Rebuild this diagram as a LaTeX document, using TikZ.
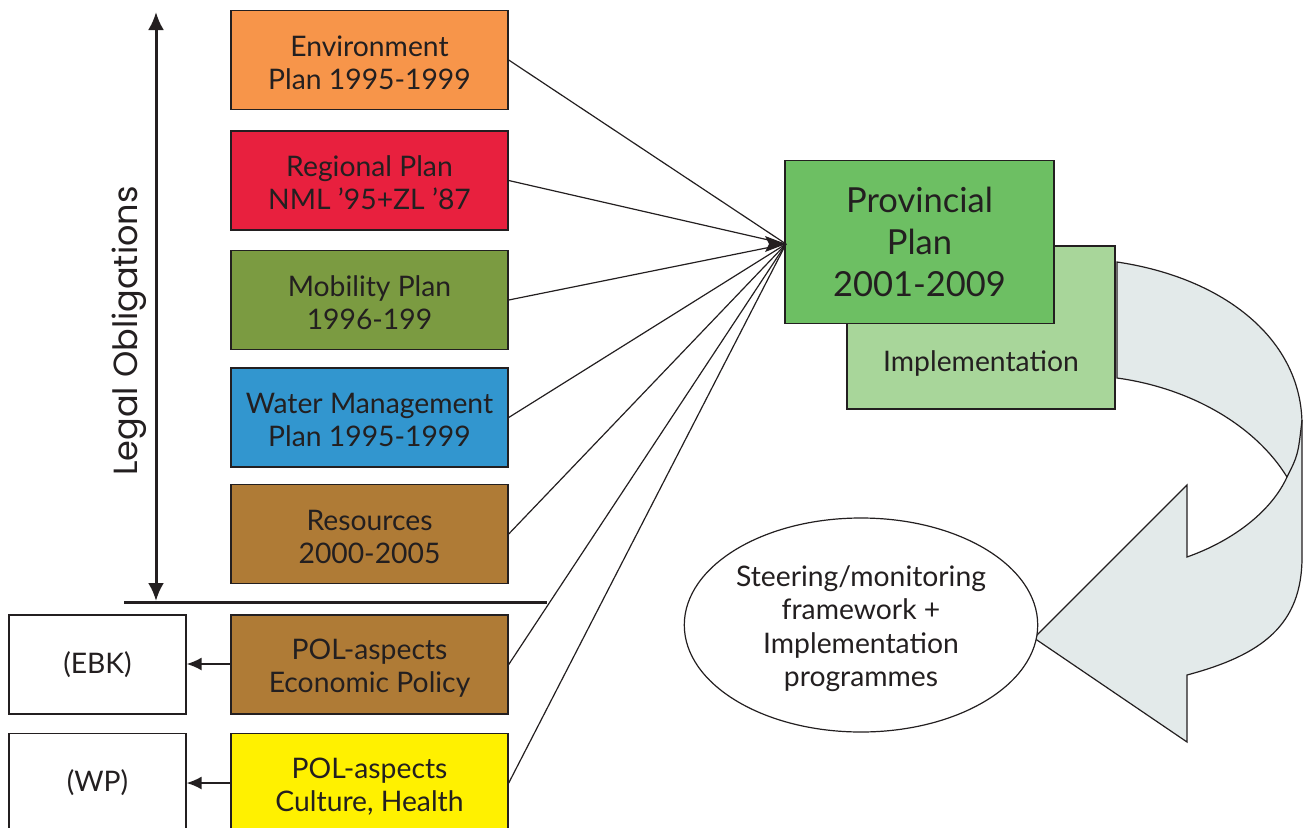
\documentclass[tikz,border=0pt]{standalone}
\usepackage{fontspec}
\setmainfont{Lato}
\newfontfamily\widefont{Poppins}
\usetikzlibrary{arrows.meta,shapes.geometric}
\definecolor{ink}{HTML}{231F20}
\definecolor{corange}{HTML}{F7954A}
\definecolor{cred}{HTML}{E8203E}
\definecolor{colive}{HTML}{7B9B41}
\definecolor{cblue}{HTML}{3296CF}
\definecolor{cbrown}{HTML}{AF7B36}
\definecolor{cyellow}{HTML}{FFF100}
\definecolor{cgreen}{HTML}{6DBF63}
\definecolor{clight}{HTML}{A8D69A}
\definecolor{carrow}{HTML}{E3EAEA}
\newcommand\tp{\rule{0pt}{28pt}}
\newcommand\tb{\rule[-3pt]{0pt}{3pt}}
\tikzset{
  plan/.style={draw=ink, line width=1.4pt, minimum width=277pt, minimum height=99pt,
    align=center, text=ink, font=\fontsize{28.3}{33}\selectfont, inner sep=0pt},
  whitebox/.style={plan, fill=white, minimum width=177pt},
  feed/.style={draw=ink, line width=1.2pt},
  sidearrow/.style={draw=ink, line width=1.5pt, -{Latex[length=15pt,width=13pt]}},
}
\begin{document}
\begin{tikzpicture}[x=1pt,y=-1pt]
\useasboundingbox (0,0) rectangle (1305,827);
\clip (0,0) rectangle (1305,827);
% left column boxes
\node[plan, fill=corange] (env) at (369.5,60) {\tp Environment\\Plan 1995-1999\tb};
\node[plan, fill=cred] (reg) at (369.5,180.5) {\tp Regional Plan\\NML '95+ZL '87\tb};
\node[plan, fill=colive] (mob) at (369.5,300) {\tp Mobility Plan\\1996-199\tb};
\node[plan, fill=cblue] (wat) at (369.5,417.5) {\tp Water Management\\Plan 1995-1999\tb};
\node[plan, fill=cbrown] (res) at (369.5,534) {\tp Resources\\2000-2005\tb};
\node[plan, fill=cbrown] (eco) at (369.5,664.5) {\tp POL-aspects\\Economic Policy\tb};
\node[plan, fill=cyellow] (cul) at (369.5,783) {\tp POL-aspects\\Culture, Health\tb};
\node[whitebox] (ebk) at (97.5,664.5) {(EBK)};
\node[whitebox] (wp) at (97.5,783) {(WP)};
\draw[sidearrow] ([yshift=0.5pt]eco.west) -- ([yshift=0.5pt]ebk.east);
\draw[sidearrow] (cul.west) -- (wp.east);
% legal obligations axis
\coordinate (lineL) at (124,602);
\coordinate (lineR) at (547,602);
\draw[ink, line width=3pt] (lineL) -- (lineR);
\coordinate (axT) at (156,12);
\coordinate (axB) at (156,601);
\draw[ink, line width=3pt, {Latex[length=18pt,width=16pt]}-{Latex[length=18pt,width=16pt]}] (axT) -- (axB);
\node[rotate=90, text=ink, font=\widefont\fontsize{33.5}{36}\selectfont] (legal) at (129,331) {Legal Obligations};
% curved arrow
\draw[ink, line width=1.2pt, fill=carrow]
  (1117,262) .. controls (1225,278) and (1302,340) .. (1302,425)
  -- (1302,557) .. controls (1302,625) and (1262,655) .. (1187,675)
  -- (1187,742) -- (1034,638) -- (1187,485) -- (1187,557)
  .. controls (1235,540) and (1272,510) .. (1287,477)
  .. controls (1255,425) and (1190,388) .. (1117,378) -- cycle;
\draw[ink, line width=1.2pt] (1287,477) .. controls (1298,455) .. (1302,420);
% provincial plan
\node[draw=ink, line width=1.4pt, fill=clight, minimum width=268pt, minimum height=163pt] (impl) at (981,327.5) {};
\node[text=ink, font=\fontsize{28.3}{33}\selectfont] (impltxt) at (981,363) {Implementation};
\node[draw=ink, line width=1.4pt, fill=cgreen, minimum width=269pt, minimum height=163pt,
  align=center, text=ink, font=\fontsize{34.5}{42}\selectfont, inner sep=0pt] (prov) at (919.5,242) {Provincial\\Plan\\2001-2009};
% ellipse
\node[ellipse, draw=ink, line width=1.2pt, fill=white, minimum width=348pt, minimum height=214pt,
  align=center, text=ink, font=\fontsize{28.3}{33.5}\selectfont, inner sep=0pt] (steer) at (861,625)
  {\tp Steering/monitoring\\framework +\\Implementation\\programmes\tb};
% converging feeds
\coordinate (conv) at (786,244);
\foreach \n in {env,reg,mob,wat,res,eco,cul} \draw[feed] (\n.east) -- (conv);
\fill[ink] (conv) -- ++(-21,-8) -- ++(4,8) -- ++(-4,8) -- cycle;
\end{tikzpicture}
\end{document}
